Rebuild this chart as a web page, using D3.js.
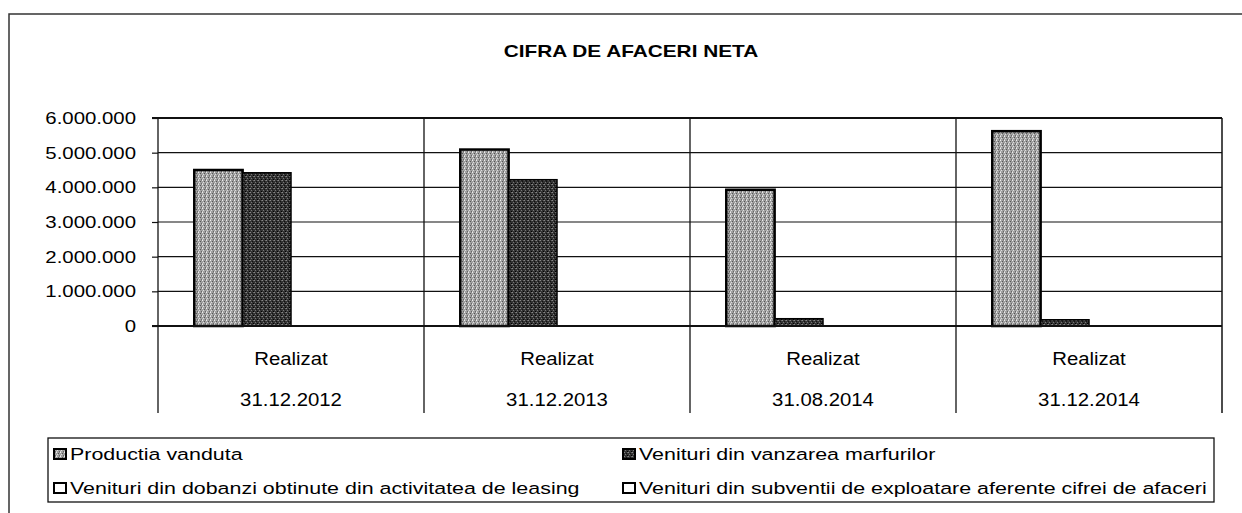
<!DOCTYPE html>
<html>
<head>
<meta charset="utf-8">
<script src="https://cdn.jsdelivr.net/npm/d3@7"></script>
<style>
  html, body { margin: 0; padding: 0; background: #fff; }
  svg { display: block; font-family: Arial, "Liberation Sans", sans-serif; }
</style>
</head>
<body>
<svg id="chart" width="1242" height="513"></svg>
<script>
// chart data
const title = 'CIFRA DE AFACERI NETA';
const categories = ['31.12.2012', '31.12.2013', '31.08.2014', '31.12.2014'];
const categoryTop = ['Realizat', 'Realizat', 'Realizat', 'Realizat'];
const seriesNames = [
  'Productia vanduta',
  'Venituri din vanzarea marfurilor',
  'Venituri din dobanzi obtinute din activitatea de leasing',
  'Venituri din subventii de exploatare aferente cifrei de afaceri'
];
const productia = [4500000, 5090000, 3930000, 5620000];
const marfuri = [4420000, 4220000, 210000, 180000];
const leasing = [0, 0, 0, 0];
const subventii = [0, 0, 0, 0];
const yTicks = [0, 1000000, 2000000, 3000000, 4000000, 5000000, 6000000];

const seriesValues = [productia, marfuri, leasing, subventii];
const fills = ['url(#patGray)', 'url(#patDark)', '#fff', '#fff'];

const svg = d3.select('#chart');
const plot = {left: 158, right: 1222, top: 118, bottom: 326, labelsBottom: 413};

const loc = d3.formatLocale({decimal: ',', thousands: '.', grouping: [3], currency: ['', '']});
const fmt = loc.format(',.0f');

// dither-like fills to mimic the scanned shading
const defs = svg.append('defs');
function addPattern(id, base, dots) {
  const p = defs.append('pattern').attr('id', id).attr('width', 4).attr('height', 4)
      .attr('patternUnits', 'userSpaceOnUse');
  p.append('rect').attr('width', 4).attr('height', 4).attr('fill', base);
  dots.forEach(d => p.append('rect').attr('x', d[0]).attr('y', d[1])
      .attr('width', 1).attr('height', 1).attr('fill', d[2]));
}
addPattern('patGray', '#a0a0a0', [[0,0,'#eee'],[2,1,'#555'],[1,2,'#ddd'],[3,3,'#666'],[3,0,'#888'],[0,3,'#ccc']]);
addPattern('patDark', '#333', [[0,0,'#888'],[2,1,'#111'],[1,2,'#777'],[3,3,'#000'],[3,0,'#666']]);

// stretched text helper (the scan is wider than tall)
function txt(g, x, y, s, size, sx, anchor, weight) {
  return g.append('text')
      .attr('transform', `translate(${x},${y}) scale(${sx},1)`)
      .attr('text-anchor', anchor || 'start')
      .style('font-size', size + 'px')
      .style('font-weight', weight || 'normal')
      .attr('fill', '#000')
      .text(s);
}

// outer frame
svg.append('path').attr('d', 'M9,513 V14 H1242')
    .attr('fill', 'none').attr('stroke', '#333').attr('stroke-width', 1.5);

txt(svg, 631, 57, title, 16, 1.3, 'middle', 'bold');

const x0 = d3.scaleBand().domain(categories).range([plot.left, plot.right]);
const x1 = d3.scaleBand().domain(d3.range(seriesNames.length))
    .range([0, x0.bandwidth()]).paddingOuter(0.75);
const y = d3.scaleLinear().domain([0, 6000000]).range([plot.bottom, plot.top]);

// gridlines
svg.append('g').selectAll('line').data(yTicks.slice(1, -1)).join('line')
    .attr('x1', plot.left).attr('x2', plot.right)
    .attr('y1', d => y(d)).attr('y2', d => y(d))
    .attr('stroke', '#111').attr('stroke-width', 1.2);

// y axis
const yAxis = svg.append('g').attr('transform', `translate(${plot.left},0)`)
    .call(d3.axisLeft(y).tickValues(yTicks).tickSize(6).tickPadding(16).tickFormat(() => ''));
yAxis.select('.domain').remove();
yAxis.selectAll('.tick line').attr('stroke', '#111').attr('stroke-width', 1.2);
yTicks.forEach(v => txt(svg, 136, y(v) + 6, fmt(v), 17, 1.2, 'end'));

// category separators running through plot and label area
svg.append('g').selectAll('line').data(categories).join('line')
    .attr('x1', d => x0(d)).attr('x2', d => x0(d))
    .attr('y1', plot.top).attr('y2', plot.labelsBottom)
    .attr('stroke', '#111').attr('stroke-width', 1.3);
svg.append('line').attr('x1', plot.right).attr('x2', plot.right)
    .attr('y1', plot.top).attr('y2', plot.labelsBottom)
    .attr('stroke', '#111').attr('stroke-width', 1.5);
svg.append('line').attr('x1', plot.left - 6).attr('x2', plot.right)
    .attr('y1', plot.top).attr('y2', plot.top)
    .attr('stroke', '#111').attr('stroke-width', 2);

// bars
const groups = svg.append('g').selectAll('g').data(categories).join('g')
    .attr('transform', d => `translate(${x0(d)},0)`);
groups.selectAll('rect')
    .data((c, ci) => seriesValues.map((vals, si) => ({si, v: vals[ci]})).filter(d => d.v > 0))
    .join('rect')
    .attr('x', d => x1(d.si))
    .attr('y', d => y(d.v))
    .attr('width', x1.bandwidth())
    .attr('height', d => y(0) - y(d.v))
    .attr('fill', d => fills[d.si])
    .attr('stroke', '#000')
    .attr('stroke-width', d => d.si === 0 ? 2.5 : 1.5);

// baseline
svg.append('line').attr('x1', plot.left - 6).attr('x2', plot.right)
    .attr('y1', y(0)).attr('y2', y(0))
    .attr('stroke', '#111').attr('stroke-width', 2);

// category labels
categories.forEach((c, i) => {
  const cx = x0(c) + x0.bandwidth() / 2;
  txt(svg, cx, 365, categoryTop[i], 18.5, 1.1, 'middle');
  txt(svg, cx, 406, c, 18.5, 1.1, 'middle');
});

// legend
const legend = svg.append('g');
legend.append('rect').attr('x', 48).attr('y', 438).attr('width', 1166).attr('height', 64)
    .attr('fill', 'none').attr('stroke', '#111').attr('stroke-width', 1.3);
const legendPos = [[53, 448], [622, 448], [53, 482], [622, 482]];
seriesNames.forEach((name, i) => {
  const [lx, ly] = legendPos[i];
  legend.append('rect').attr('x', lx + 1).attr('y', ly + 1).attr('width', 12).attr('height', 10)
      .attr('fill', fills[i]).attr('stroke', '#000').attr('stroke-width', 2);
  txt(legend, lx + 17, ly + 12, name, 17, 1.26, 'start');
});
</script>
</body>
</html>
